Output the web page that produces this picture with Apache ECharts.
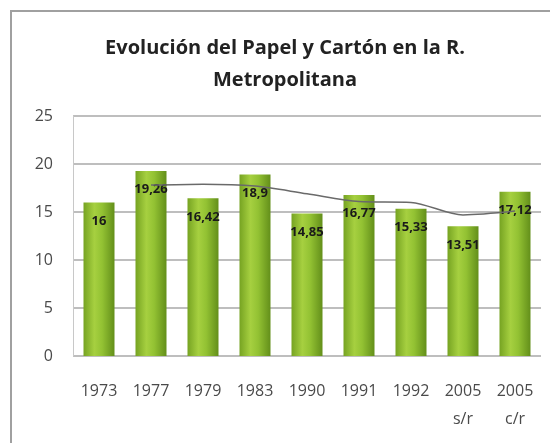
<!DOCTYPE html>
<html>
<head>
<meta charset="utf-8">
<script src="https://cdn.jsdelivr.net/npm/echarts@6/dist/echarts.min.js"></script>
<style>
  html, body { margin: 0; padding: 0; background: #fff; }
  #frame { position: absolute; left: 10px; top: 10px; width: 560px; height: 460px; border: 2px solid #a0a0a0; box-sizing: border-box; }
  #chart { position: absolute; left: 0; top: 0; width: 550px; height: 443px; }
</style>
</head>
<body>
<div id="frame"></div>
<div id="chart"></div>
<script>
  // categorías (años)
  const years = ['1973', '1977', '1979', '1983', '1990', '1991', '1992', '2005\ns/r', '2005\nc/r'];
  // valores de las barras
  const values = [16, 19.26, 16.42, 18.9, 14.85, 16.77, 15.33, 13.51, 17.12];
  // línea de tendencia
  const trend = [null, 17.8, 17.9, 17.7, 16.9, 16.1, 16.0, 14.7, 15.1];
  const yTicks = [0, 5, 10, 15, 20, 25];

  const myChart = echarts.init(document.getElementById('chart'));

  const options = {
    animation: false,
    title: {
      text: 'Evolución del Papel y Cartón en la R.\nMetropolitana',
      left: 280,
      textAlign: 'center',
      top: 27,
      textStyle: {
        fontFamily: 'Open Sans',
        fontWeight: 'bold',
        fontSize: 20,
        lineHeight: 32,
        color: '#222'
      }
    },
    grid: { left: 73, right: 9, top: 116, bottom: 87 },
    xAxis: {
      type: 'category',
      data: years,
      axisLine: { show: false },
      axisTick: { show: false },
      axisLabel: {
        color: '#4a4a4a',
        fontFamily: 'Open Sans',
        fontSize: 16,
        lineHeight: 28,
        margin: 21
      }
    },
    yAxis: {
      type: 'value',
      min: yTicks[0],
      max: yTicks[yTicks.length - 1],
      interval: 5,
      axisLine: { show: true, lineStyle: { color: '#c8c8c8' } },
      axisTick: { show: false },
      axisLabel: {
        color: '#4a4a4a',
        fontFamily: 'Open Sans',
        fontSize: 16,
        margin: 20
      },
      splitLine: { lineStyle: { color: '#a8a8a8', width: 1.5 } }
    },
    series: [
      {
        type: 'bar',
        data: values,
        barWidth: 31,
        itemStyle: {
          color: new echarts.graphic.LinearGradient(0, 0, 1, 0, [
            { offset: 0, color: '#76a322' },
            { offset: 0.35, color: '#a6d040' },
            { offset: 0.6, color: '#93c233' },
            { offset: 1, color: '#638f1a' }
          ])
        },
        label: {
          show: true,
          position: 'insideTop',
          distance: 12,
          color: '#1a1a1a',
          fontWeight: 'bold',
          fontFamily: 'Open Sans',
          fontSize: 13,
          formatter: p => String(p.value).replace('.', ',')
        },
        z: 2
      },
      {
        type: 'line',
        data: trend,
        smooth: 0.3,
        symbol: 'none',
        lineStyle: { color: '#6a6a6a', width: 1.5 },
        z: 3
      }
    ]
  };

  myChart.setOption(options);
</script>
</body>
</html>
